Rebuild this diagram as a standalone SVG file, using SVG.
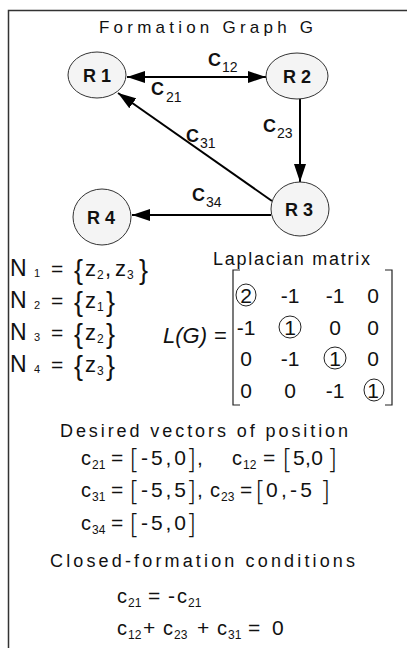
<svg xmlns="http://www.w3.org/2000/svg" width="407" height="648" viewBox="0 0 407 648">
<style>
text{font-family:"Liberation Sans",Arial,sans-serif;fill:#111}
.node ellipse{fill:#f4f4f4;stroke:#333;stroke-width:1}
.nl{font-size:18px;font-weight:bold}
.edge{stroke:#000;stroke-width:2;fill:none}
.c{font-size:18px;font-weight:bold}
.cs{font-size:14px}
.h{font-size:18px}
.eq{font-size:21px}
.nn{font-size:23px}
.z{font-size:22px}
.sm{font-size:11px}
.br{font-size:27px}
.vb{font-size:27px;font-family:"DejaVu Sans",sans-serif;font-weight:200}
.v{font-size:20px}
.vs{font-size:12px}
.mb{stroke:#222;stroke-width:1.2;fill:none}
.ring{stroke:#222;stroke-width:1;fill:none}
</style>
<defs>
<marker id="ah" markerUnits="userSpaceOnUse" markerWidth="18" markerHeight="12" viewBox="0 0 18 12" refX="18" refY="6" orient="auto-start-reverse">
<path d="M0,0 L18,6 L0,12 z" fill="#000"/>
</marker>
</defs>
<path d="M8.5,648 V10.5 H407" stroke="#333" stroke-width="1.5" fill="none"/>
<text x="99" y="33" style="font-size:17px" textLength="214">Formation Graph G</text>

<g id="edges">
<line class="edge" x1="145" y1="77" x2="266" y2="77" marker-end="url(#ah)"/>
<line class="edge" x1="248" y1="77" x2="127" y2="77" marker-end="url(#ah)"/>
<line class="edge" x1="300" y1="99" x2="300" y2="182" marker-end="url(#ah)"/>
<line class="edge" x1="272" y1="201" x2="118" y2="93" marker-end="url(#ah)"/>
<line class="edge" x1="271" y1="215" x2="132" y2="215" marker-end="url(#ah)"/>
<text class="c" x="208" y="66">C</text><text class="cs" x="222" y="72">12</text>
<text class="c" x="151" y="95">C</text><text class="cs" x="166" y="102">21</text>
<text class="c" x="263" y="132">C</text><text class="cs" x="277" y="138">23</text>
<text class="c" x="186" y="142">C</text><text class="cs" x="200" y="148">31</text>
<text class="c" x="192" y="201">C</text><text class="cs" x="206" y="207">34</text>
</g>

<g id="R1" class="node"><ellipse cx="97" cy="75" rx="29" ry="23"/><text class="nl" x="97" y="82" text-anchor="middle">R 1</text></g>
<g id="R2" class="node"><ellipse cx="297" cy="76" rx="31" ry="23"/><text class="nl" x="297" y="83" text-anchor="middle">R 2</text></g>
<g id="R3" class="node"><ellipse cx="300" cy="209" rx="29" ry="27"/><text class="nl" x="299" y="216" text-anchor="middle">R 3</text></g>
<g id="R4" class="node"><ellipse cx="102" cy="217" rx="29" ry="28"/><text class="nl" x="101" y="224" text-anchor="middle">R 4</text></g>

<g id="neighbors">
<text class="nn" x="10" y="276">N</text><text class="sm" x="34" y="277">1</text><text class="eq" x="51" y="276">=</text>
<text class="br" x="74" y="279">{</text><text class="z" x="85" y="276">z</text><text class="vs" x="97" y="279">2</text><text class="z" x="105" y="276">,</text><text class="z" x="115" y="276">z</text><text class="vs" x="127" y="279">3</text><text class="br" x="139" y="279">}</text>
<text class="nn" x="10" y="308">N</text><text class="sm" x="34" y="309">2</text><text class="eq" x="51" y="308">=</text>
<text class="br" x="74" y="311">{</text><text class="z" x="85" y="308">z</text><text class="vs" x="97" y="311">1</text><text class="br" x="106" y="311">}</text>
<text class="nn" x="10" y="340">N</text><text class="sm" x="34" y="341">3</text><text class="eq" x="51" y="340">=</text>
<text class="br" x="74" y="343">{</text><text class="z" x="85" y="340">z</text><text class="vs" x="97" y="343">2</text><text class="br" x="106" y="343">}</text>
<text class="nn" x="10" y="372">N</text><text class="sm" x="34" y="373">4</text><text class="eq" x="51" y="372">=</text>
<text class="br" x="74" y="375">{</text><text class="z" x="85" y="372">z</text><text class="vs" x="97" y="375">3</text><text class="br" x="106" y="375">}</text>
</g>

<g id="laplacian">
<text class="h" x="213" y="265" textLength="157">Laplacian matrix</text>
<text x="163" y="343" style="font-size:22px;font-style:italic">L(G)</text><text x="214" y="343" style="font-size:22px">=</text>
<path class="mb" d="M240,270 H233 V405 H240"/>
<path class="mb" d="M385,270 H392 V405 H385"/>
<g class="eq" text-anchor="middle">
<text x="246" y="303">2</text><text x="290" y="303">-1</text><text x="335" y="303">-1</text><text x="373" y="303">0</text>
<text x="246" y="335">-1</text><text x="290" y="335">1</text><text x="335" y="335">0</text><text x="373" y="335">0</text>
<text x="246" y="366">0</text><text x="290" y="366">-1</text><text x="335" y="366">1</text><text x="373" y="366">0</text>
<text x="246" y="398">0</text><text x="290" y="398">0</text><text x="335" y="398">-1</text><text x="373" y="398">1</text>
</g>
<ellipse class="ring" cx="246" cy="295" rx="10" ry="11"/>
<ellipse class="ring" cx="290" cy="327" rx="11" ry="11"/>
<ellipse class="ring" cx="335" cy="358" rx="11" ry="11"/>
<ellipse class="ring" cx="374" cy="390" rx="10" ry="11"/>
</g>

<g id="vectors">
<text class="h" x="60" y="437" textLength="288">Desired vectors of position</text>
<text class="v" x="81" y="465">c</text><text class="vs" x="92" y="469">21</text><text class="eq" x="111" y="465">=</text>
<text class="vb" x="129" y="468">[</text><text class="eq" x="141" y="465" textLength="45">-5,0</text><text class="vb" x="186" y="468">]</text><text class="eq" x="197" y="465">,</text>
<text class="v" x="232" y="465">c</text><text class="vs" x="243" y="469">12</text><text class="eq" x="263" y="465">=</text>
<text class="vb" x="282" y="468">[</text><text class="eq" x="293" y="465" textLength="30">5,0</text><text class="vb" x="327" y="468">]</text>
<text class="v" x="81" y="497">c</text><text class="vs" x="92" y="501">31</text><text class="eq" x="111" y="497">=</text>
<text class="vb" x="129" y="500">[</text><text class="eq" x="141" y="497" textLength="45">-5,5</text><text class="vb" x="186" y="500">]</text><text class="eq" x="197" y="497">,</text>
<text class="v" x="210" y="497">c</text><text class="vs" x="221" y="501">23</text><text class="eq" x="240" y="497">=</text>
<text class="vb" x="255" y="500">[</text><text class="eq" x="266" y="497" textLength="46">0,-5</text><text class="vb" x="320" y="500">]</text>
<text class="v" x="81" y="530">c</text><text class="vs" x="92" y="534">34</text><text class="eq" x="111" y="530">=</text>
<text class="vb" x="129" y="533">[</text><text class="eq" x="141" y="530" textLength="45">-5,0</text><text class="vb" x="186" y="533">]</text>
</g>

<g id="conditions">
<text class="h" x="50" y="567" textLength="305">Closed-formation conditions</text>
<text class="v" x="117" y="603">c</text><text class="vs" x="128" y="607">21</text><text class="eq" x="148" y="603">=</text><text class="eq" x="168" y="603">-</text>
<text class="v" x="177" y="603">c</text><text class="vs" x="188" y="607">21</text>
<text class="v" x="117" y="635">c</text><text class="vs" x="128" y="639">12</text><text class="eq" x="143" y="635">+</text>
<text class="v" x="163" y="635">c</text><text class="vs" x="174" y="639">23</text><text class="eq" x="197" y="635">+</text>
<text class="v" x="217" y="635">c</text><text class="vs" x="228" y="639">31</text><text class="eq" x="248" y="635">=</text><text class="eq" x="272" y="635">0</text>
</g>
</svg>
